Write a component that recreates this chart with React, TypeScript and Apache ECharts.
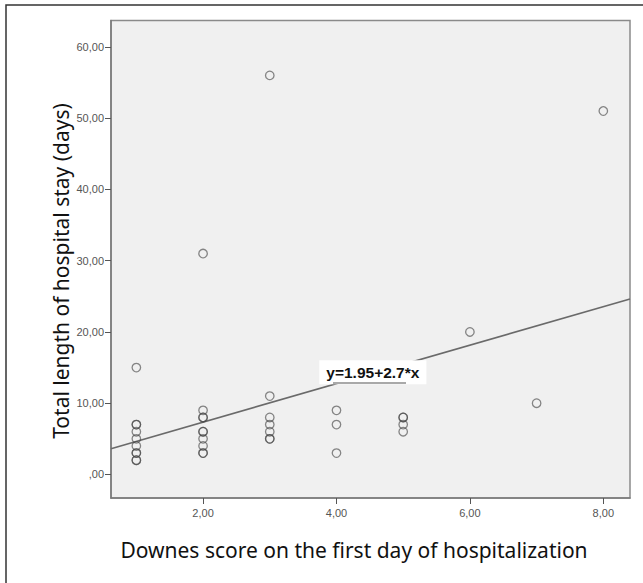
import React, { useEffect, useRef } from "react";
import * as echarts from "echarts";

// Observed data (Downes score, length of stay in days); duplicates kept to reproduce darker overlapping rings
const scoreValues: number[] = [
  1, 1, 1, 1, 1, 1, 1, 1, 1, 1,
  2, 2, 2, 2, 2, 2, 2, 2, 2, 2,
  3, 3, 3, 3, 3, 3, 3,
  4, 4, 4,
  5, 5, 5, 5,
  6, 7, 8,
];
const stayValues: number[] = [
  15, 7, 7, 6, 5, 4, 3, 3, 2, 2,
  31, 9, 8, 8, 6, 6, 5, 4, 3, 3,
  56, 11, 8, 7, 6, 5, 5,
  9, 7, 3,
  8, 8, 7, 6,
  20, 10, 51,
];

// Fitted regression shown on the chart
const intercept = 1.95;
const slope = 2.7;
const equationLabel = "y=1.95+2.7*x";

// Axis ranges and tick labels
const xMin = 0.62;
const xMax = 8.4;
const yMin = -3.3;
const yMax = 63.7;
const xTicks: number[] = [2, 4, 6, 8];
const yTicks: number[] = [0, 10, 20, 30, 40, 50, 60];

const xTitle = "Downes score on the first day of hospitalization";
const yTitle = "Total length of hospital stay (days)";

const fmt = (v: number) => (v === 0 ? ",00" : v.toFixed(2).replace(".", ","));

export default function App() {
  const ref = useRef<HTMLDivElement>(null);

  useEffect(() => {
    if (!ref.current) return;
    const chart = echarts.init(ref.current, undefined, { renderer: "svg" });

    const points = scoreValues.map((x, i) => [x, stayValues[i]]);
    const fitLine = [
      [xMin, intercept + slope * xMin],
      [xMax, intercept + slope * xMax],
    ];

    const tickLabelStyle = {
      color: "#555",
      fontSize: 11,
      fontFamily: "'Liberation Sans Narrow', 'Liberation Sans', Arial, sans-serif",
    };

    chart.setOption({
      animation: false,
      backgroundColor: "#ffffff",
      grid: {
        left: 111,
        right: 13,
        top: 20.5,
        bottom: 85,
        show: true,
        backgroundColor: "#f0f0f0",
        borderColor: "#8a8a8a",
        borderWidth: 1.5,
      },
      xAxis: {
        type: "value",
        min: xMin,
        max: xMax,
        splitLine: { show: false },
        axisLine: { show: true, onZero: false, lineStyle: { color: "#7a7a7a", width: 1.5 } },
        axisTick: {
          show: true,
          length: 6,
          customValues: xTicks,
          lineStyle: { color: "#555" },
        },
        axisLabel: {
          ...tickLabelStyle,
          margin: 9,
          customValues: xTicks,
          formatter: (v: number) => fmt(v),
        },
      },
      yAxis: {
        type: "value",
        min: yMin,
        max: yMax,
        splitLine: { show: false },
        axisLine: { show: true, onZero: false, lineStyle: { color: "#7a7a7a", width: 1.5 } },
        axisTick: {
          show: true,
          length: 6,
          customValues: yTicks,
          lineStyle: { color: "#555" },
        },
        axisLabel: {
          ...tickLabelStyle,
          margin: 7,
          customValues: yTicks,
          formatter: (v: number) => fmt(v),
        },
      },
      series: [
        {
          type: "line",
          data: fitLine,
          symbol: "none",
          lineStyle: { color: "#6a6a6a", width: 1.6 },
          z: 2,
          markPoint: {
            symbol: "rect",
            symbolSize: 0,
            silent: true,
            data: [{ coord: [4.545, 14.35] }],
            label: {
              show: true,
              position: "inside",
              formatter: equationLabel,
              backgroundColor: "#ffffff",
              padding: [4, 7, 4, 7],
              color: "#111",
              fontSize: 15.5,
              fontWeight: "bold",
              fontFamily: "'Liberation Sans', Arial, sans-serif",
            },
          },
        },
        {
          type: "scatter",
          data: points,
          symbol: "circle",
          symbolSize: 8.5,
          itemStyle: {
            color: "rgba(0,0,0,0)",
            borderColor: "rgba(70,70,70,0.8)",
            borderWidth: 1.3,
          },
          z: 3,
        },
      ],
      graphic: [
        {
          type: "rect",
          shape: { x: 6, y: 5, width: 700, height: 700 },
          style: { fill: "none", stroke: "#333", lineWidth: 1.5 },
          silent: true,
        },
        {
          type: "line",
          shape: { x1: 333, y1: 383, x2: 406, y2: 383 },
          style: { stroke: "#555", lineWidth: 1.2 },
          z: 10,
        },
        {
          type: "text",
          x: 61,
          y: 271,
          rotation: Math.PI / 2,
          style: {
            text: yTitle,
            fill: "#111",
            fontSize: 21,
            fontFamily: "'Noto Sans', 'Open Sans', sans-serif",
            align: "center",
            verticalAlign: "middle",
          },
        },
        {
          type: "text",
          x: 354,
          y: 550,
          style: {
            text: xTitle,
            fill: "#111",
            fontSize: 21,
            fontFamily: "'Noto Sans', 'Open Sans', sans-serif",
            align: "center",
            verticalAlign: "middle",
          },
        },
      ],
    });

    return () => chart.dispose();
  }, []);

  return (
    <div
      ref={ref}
      style={{ position: "fixed", left: 0, top: 0, width: 643, height: 583, background: "#fff" }}
    />
  );
}
